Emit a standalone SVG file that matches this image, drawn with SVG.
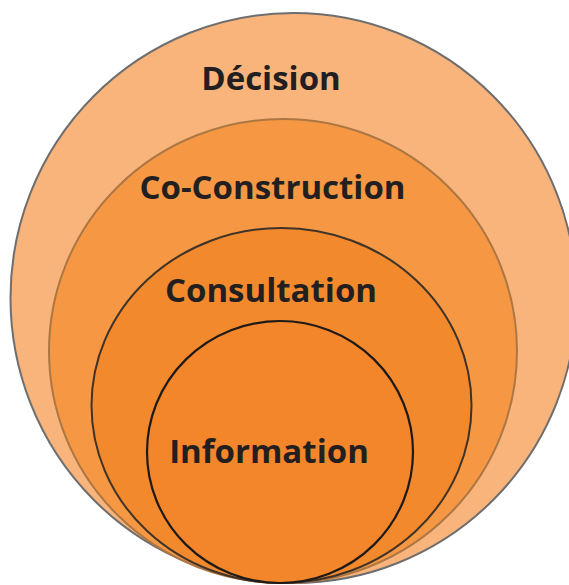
<svg xmlns="http://www.w3.org/2000/svg" width="569" height="585" viewBox="0 0 569 585">
  <style>
    .lbl { font-family: "Open Sans", "Liberation Sans", sans-serif; font-weight: 700; font-size: 33px; fill: #231F20; text-anchor: middle; }
  </style>
  <rect width="569" height="585" fill="#FFFFFF"/>
  <g id="decision">
    <ellipse cx="293.5" cy="298" rx="283" ry="285" fill="#F8B47B" stroke="#6E6E6E" stroke-width="2"/>
    <text class="lbl" x="271" y="90">Décision</text>
  </g>
  <g id="co-construction">
    <ellipse cx="283" cy="351" rx="234" ry="232" fill="#F59743" stroke="#AD7744" stroke-width="2"/>
    <text class="lbl" x="272.5" y="199">Co-Construction</text>
  </g>
  <g id="consultation">
    <ellipse cx="281.5" cy="405.5" rx="190" ry="177.5" fill="#F3892D" stroke="#3F3328" stroke-width="2"/>
    <text class="lbl" x="271" y="302">Consultation</text>
  </g>
  <g id="information">
    <ellipse cx="280" cy="452" rx="133" ry="131" fill="#F3852A" stroke="#1E1A18" stroke-width="2.2"/>
    <text class="lbl" x="269" y="462.5">Information</text>
  </g>
</svg>
